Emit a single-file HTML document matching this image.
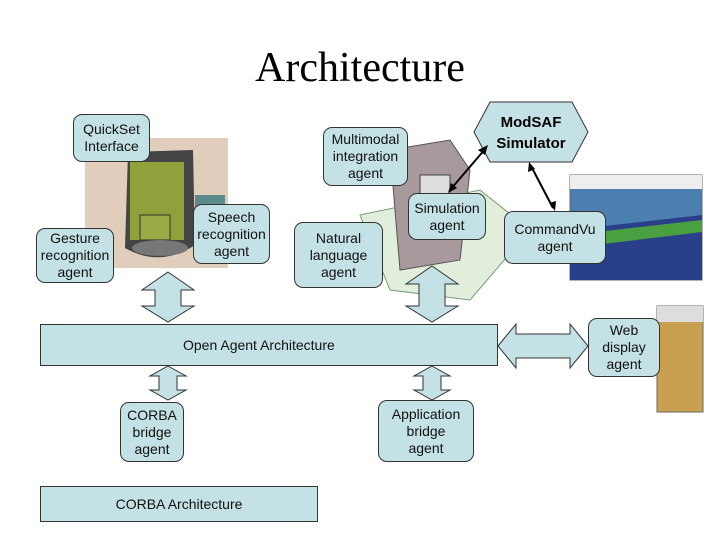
<!DOCTYPE html>
<html><head><style>
body{margin:0;width:720px;height:540px;background:#fff;position:relative;overflow:hidden;font-family:"Liberation Sans",sans-serif}
.b{position:absolute;background:#c4e2e6;border:1px solid #333;border-radius:9px;box-sizing:border-box;display:flex;align-items:center;justify-content:center;text-align:center;font-size:14px;line-height:17px;color:#111}
</style></head><body>
<div style="position:absolute;left:0;width:720px;top:44px;text-align:center;font-family:'Liberation Serif',serif;font-size:42px">Architecture</div>
<svg width="720" height="540" style="position:absolute;left:0;top:0">
<!-- PDA -->
<rect x="85" y="138" width="143" height="130" fill="#e0cdbb"/>
<rect x="195" y="195" width="30" height="45" fill="#5d8a8a"/>
<path d="M128 152 L193 150 L195 245 Q160 268 125 248 Z" fill="#444"/>
<rect x="130" y="162" width="54" height="78" fill="#8fa13a"/>
<rect x="140" y="215" width="30" height="25" fill="#9aab45" stroke="#333"/>
<ellipse cx="160" cy="248" rx="28" ry="8" fill="#777"/>
<!-- computer -->
<polygon points="360,215 480,190 530,230 470,300 390,290" fill="#e1eedc" stroke="#7a9a7a"/>
<polygon points="390,150 450,140 470,170 460,260 400,270" fill="#a89a9c" stroke="#555"/>
<rect x="420" y="175" width="30" height="20" fill="#ddd" stroke="#444"/>
<!-- screenshot right -->
<rect x="570" y="175" width="132" height="105" fill="#4a7fb0" stroke="#666"/>
<rect x="570" y="175" width="132" height="14" fill="#eee"/>
<polygon points="570,230 702,215 702,280 570,280" fill="#2a3f8a"/>
<polygon points="570,235 702,220 702,232 570,248" fill="#4aa040"/>
<!-- web map -->
<rect x="657" y="306" width="46" height="106" fill="#c9a050" stroke="#666"/>
<rect x="657" y="306" width="46" height="16" fill="#ddd"/>
<g fill="#c4e2e6" stroke="#333" stroke-width="1">
<polygon points="168,272 194,290 181,290 181,306 194,306 168,322 142,306 155,306 155,290 142,290"/>
<polygon points="432,266 458,284 445,284 445,306 458,306 432,322 406,306 419,306 419,284 406,284"/>
<polygon points="168,366 186,376 177,376 177,390 186,390 168,400 150,390 159,390 159,376 150,376"/>
<polygon points="432,366 450,376 441,376 441,390 450,390 432,400 414,390 423,390 423,376 414,376"/>
<polygon points="498,346 516,324 516,334 570,334 570,324 588,346 570,368 570,358 516,358 516,368"/>
<polygon points="474,132 490,102 572,102 588,132 572,162 490,162"/>
</g>
<g stroke="#000" stroke-width="2">
<line x1="450" y1="190" x2="486" y2="148"/><line x1="531" y1="166" x2="553" y2="208"/>
</g>
<g fill="#000">
<polygon points="488,145 478,150 485,155"/><polygon points="448,193 451,183 457,188"/>
<polygon points="529,162 528,172 535,169"/><polygon points="555,211 549,203 556,201"/>
</g>
<text x="531" y="127" text-anchor="middle" font-family="Liberation Sans" font-weight="bold" font-size="15">ModSAF</text>
<text x="531" y="148" text-anchor="middle" font-family="Liberation Sans" font-weight="bold" font-size="15">Simulator</text>
</svg>
<div class="b" style="left:73px;top:114px;width:77px;height:48px">QuickSet<br>Interface</div>
<div class="b" style="left:36px;top:228px;width:78px;height:55px">Gesture<br>recognition<br>agent</div>
<div class="b" style="left:193px;top:204px;width:77px;height:60px">Speech<br>recognition<br>agent</div>
<div class="b" style="left:323px;top:127px;width:85px;height:59px">Multimodal<br>integration<br>agent</div>
<div class="b" style="left:294px;top:222px;width:89px;height:66px">Natural<br>language<br>agent</div>
<div class="b" style="left:408px;top:193px;width:78px;height:47px">Simulation<br>agent</div>
<div class="b" style="left:504px;top:211px;width:102px;height:53px">CommandVu<br>agent</div>
<div class="b" style="left:588px;top:318px;width:72px;height:59px">Web<br>display<br>agent</div>
<div class="b" style="left:40px;top:324px;width:458px;height:42px;border-radius:0;justify-content:flex-start;padding-left:142px">Open Agent Architecture</div>
<div class="b" style="left:120px;top:402px;width:64px;height:60px">CORBA<br>bridge<br>agent</div>
<div class="b" style="left:378px;top:400px;width:96px;height:62px">Application<br>bridge<br>agent</div>
<div class="b" style="left:40px;top:486px;width:278px;height:36px;border-radius:0">CORBA Architecture</div>
</body></html>
